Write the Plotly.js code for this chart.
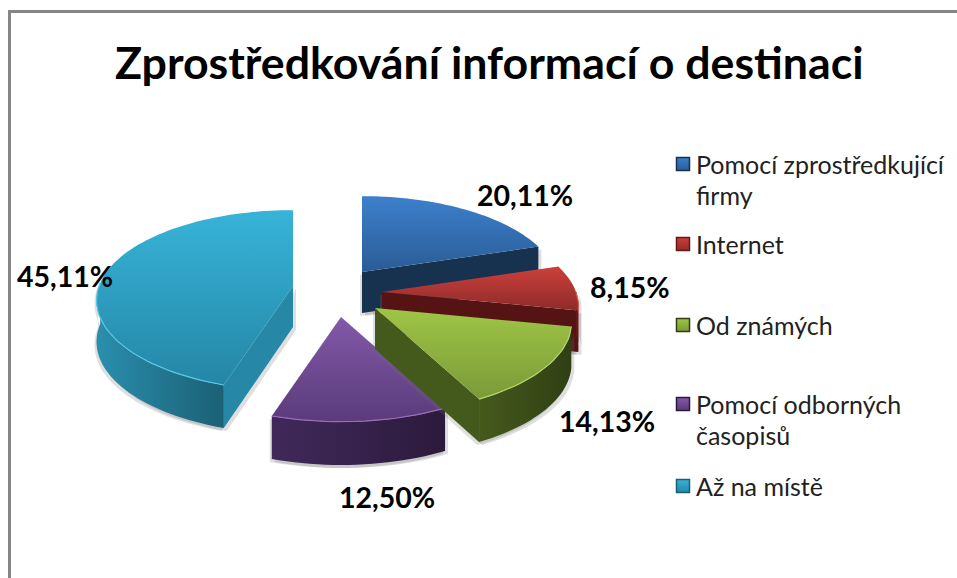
<!DOCTYPE html>
<html><head><meta charset="utf-8">
<script src="https://cdn.plot.ly/plotly-3.0.1.min.js"></script>
<style>html,body{margin:0;padding:0;background:#fff}#c{width:957px;height:578px}</style></head>
<body><div id="c"></div>
<script>
const titleText = "Zprostředkování informací o destinaci";
const categories = ["Pomocí zprostředkující<br>firmy","Internet","Od známých","Pomocí odborných<br>časopisů","Až na místě"];
const values = [20.11,8.15,14.13,12.50,45.11];

// drawing style and layout (not data)
const apexX = [362,382,375,341,293];
const apexY = [272,292,308,317,286];
const topColors = [["#3d80cc","#2a5c96"],["#cc403c","#8e2b29"],["#9fc546","#7a9a38"],["#8359a8","#5a3b7b"],["#37b4d8","#2486a6"]];
const wallColors = [["#17324f","#17324f"],["#6a1614","#6a1614"],["#465a1c","#303f14"],["#40295a","#2c1a3c"],["#2a8fae","#1b6074"]];
const faceColors = ["#17324f","#551413","#445a1c","#40295a","#2687a6"];
const rimColors = ["#4d8fd8","#d85a55","#b4d868","#9670b8","#5cc8e4"];
const labelX = [525,630,607,387,65], labelY = [195,287,421,497,276];
const swatchY = [164,244,325,404,486];
const legendLineGap = 31;
const RX = 194, RY = 88, P = 0.16, DEPTH = 41, STEP = 2;

const rad = d => d*Math.PI/180;
function persp(a){ return 1/(1-P*(-Math.cos(a))); }
function rim(i,deg,drop){
  const a = rad(deg), s = persp(a);
  return [apexX[i]+RX*Math.sin(a)*s, apexY[i]-RY*Math.cos(a)*s+(drop?DEPTH*Math.pow(s,0.3):0)];
}
function arc(i,d0,d1,drop){
  const pts=[]; const n=Math.max(2,Math.ceil(Math.abs(d1-d0)/STEP));
  for(let k=0;k<=n;k++) pts.push(rim(i,d0+(d1-d0)*k/n,drop));
  return pts;
}
function poly(pts,extra){
  return Object.assign({type:"scatter",mode:"none",fill:"toself",x:pts.map(p=>p[0]),y:pts.map(p=>p[1]),hoverinfo:"skip",showlegend:false},extra||{});
}
function grad(c0,c1,type){ return {type:type,colorscale:[[0,c0],[1,c1]]}; }
function polyGrad(pts,c0,c1,type){ return poly(pts,{fillgradient:grad(c0,c1,type),fillcolor:c0}); }
function solid(pts,c){ return poly(pts,{fillcolor:c}); }

// cumulative angles derived from the values
const total = values.reduce((a,b)=>a+b,0);
let acc=0; const startDeg=[], endDeg=[];
values.forEach(v=>{startDeg.push(acc/total*360);acc+=v;endDeg.push(acc/total*360);});

const order=[4,0,1,3,2];
const traces=[];
order.forEach(i=>{
  const a0=startDeg[i], a1=endDeg[i];
  const A=[apexX[i],apexY[i]], Ad=[apexX[i],apexY[i]+DEPTH];
  const sideParts=[];
  // outer wall: only the part facing the viewer
  const w0=Math.max(a0,90), w1=Math.min(a1,272);
  if(w1>w0){
    const wall=arc(i,w0,w1,false).concat(arc(i,w1,w0,true));
    sideParts.push({pts:wall,wall:true});
  }
  // cut faces turned towards the viewer
  let facePts=null;
  if(i<=2) facePts=[A,rim(i,a1,false),rim(i,a1,true),Ad];
  if(i===4) facePts=[A,rim(i,a0,false),rim(i,a0,true),Ad];
  if(facePts) sideParts.push({pts:facePts,wall:false});
  // soft shadow
  const shift=(pts,dx,dy)=>pts.map(p=>[p[0]+dx,p[1]+dy]);
  sideParts.forEach(part=>{
    traces.push(solid(shift(part.pts,-2,3),"rgba(110,110,110,0.22)"));
    traces.push(solid(shift(part.pts,3,3),"rgba(110,110,110,0.22)"));
  });
  // draw walls and faces
  sideParts.filter(p=>!p.wall).forEach(p=>traces.push(solid(p.pts,faceColors[i])));
  sideParts.filter(p=>p.wall).forEach(p=>traces.push(polyGrad(p.pts,wallColors[i][0],wallColors[i][1],"horizontal")));
  // top of the slice
  const top=[A].concat(arc(i,a0,a1,false));
  traces.push(polyGrad(top.concat([A]),topColors[i][1],topColors[i][0],"vertical"));
  // bevel highlight along the front rim
  if(w1>w0){
    const r=arc(i,w0,w1,false);
    traces.push({type:"scatter",mode:"lines",x:r.map(p=>p[0]),y:r.map(p=>p[1]),line:{color:rimColors[i],width:1.2},hoverinfo:"skip",showlegend:false});
  }
});

// legend swatches
traces.push({type:"scatter",mode:"markers",x:categories.map(()=>683),y:swatchY,hoverinfo:"skip",showlegend:false,
  marker:{symbol:"square",size:13,color:topColors.map(c=>c[0]),line:{color:wallColors.map(c=>c[1]),width:1.5},
  gradient:{type:"vertical",color:topColors.map(c=>c[1])}}});

const annotations=[];
categories.forEach((c,i)=>{
  c.split("<br>").forEach((line,k)=>{
    annotations.push({x:694,y:swatchY[i]+k*legendLineGap,xref:"x",yref:"y",text:line,showarrow:false,xanchor:"left",yanchor:"middle",
      font:{family:"Lato, sans-serif",size:25,color:"#222"}});
  });
});
values.forEach((v,i)=>{
  annotations.push({x:labelX[i],y:labelY[i],xref:"x",yref:"y",text:v.toFixed(2).replace(".",",")+"%",showarrow:false,xanchor:"center",yanchor:"middle",
    font:{family:"Lato, sans-serif",size:28.5,color:"#000",weight:"bold"}});
});
annotations.push({x:489,y:62,xref:"x",yref:"y",text:titleText,showarrow:false,xanchor:"center",yanchor:"middle",
  font:{family:"Lato, sans-serif",size:44.7,color:"#000",weight:"bold"}});

const layout={
  width:957,height:578,margin:{l:0,r:0,t:0,b:0},paper_bgcolor:"#fff",plot_bgcolor:"#fff",showlegend:false,
  xaxis:{range:[0,957],visible:false,fixedrange:true},
  yaxis:{range:[578,0],visible:false,fixedrange:true},
  annotations:annotations,
  shapes:[
    {type:"line",xref:"x",yref:"y",x0:8,x1:957,y0:11.5,y1:11.5,line:{color:"#868686",width:3}},
    {type:"line",xref:"x",yref:"y",x0:9.5,x1:9.5,y0:10,y1:578,line:{color:"#868686",width:3}}
  ]
};
Plotly.newPlot("c",traces,layout,{displayModeBar:false,staticPlot:true});
</script></body></html>
